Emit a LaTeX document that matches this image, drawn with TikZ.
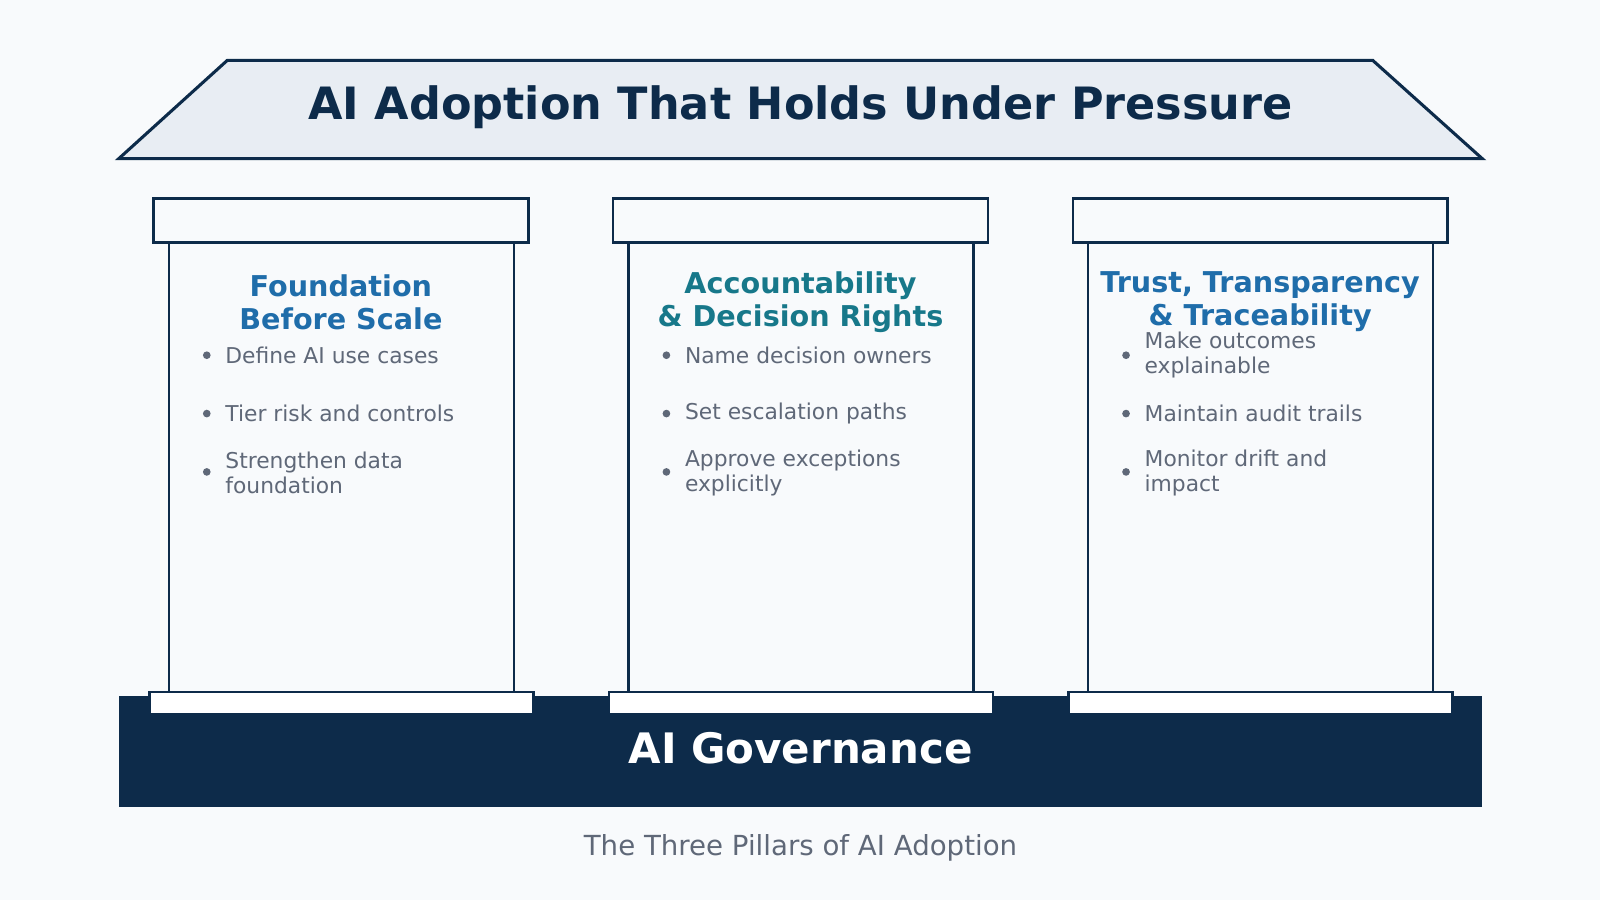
\documentclass[tikz,border=0pt]{standalone}
\usepackage{fontspec}
\setmainfont{DejaVu Sans}
\definecolor{navy}{HTML}{0D2B4A}
\definecolor{roofbg}{HTML}{E8EDF3}
\definecolor{pagebg}{HTML}{F8FAFC}
\definecolor{headblue}{HTML}{1F6DAA}
\definecolor{headteal}{HTML}{17788A}
\definecolor{txtgray}{HTML}{5F6878}
\tikzset{
  part/.style={draw=navy, line width=2.5pt, fill=pagebg},
  head/.style={font=\fontsize{28}{32}\selectfont\bfseries, align=center, inner sep=0pt},
  item/.style={font=\fontsize{21.3}{24}\selectfont, text=txtgray, align=left, anchor=west, inner sep=0pt},
  dot/.style={circle, fill=txtgray, inner sep=0pt, minimum size=7.5pt}
}
\begin{document}
\begin{tikzpicture}[x=1pt,y=1pt,yscale=-1]
\fill[pagebg] (0,0) rectangle (1563,879);
\useasboundingbox (0,0) rectangle (1563,879);

%Roof
\draw[navy, line width=3pt, fill=roofbg] (222,59) -- (1341,59) -- (1448,155) -- (116,155) -- cycle;
\node[font=\fontsize{43.5}{48}\selectfont\bfseries, text=navy] (title) at (782,105) {AI Adoption That Holds Under Pressure};

%Foundation
\fill[navy] (116,680) rectangle (1448,788);
\node[font=\fontsize{41}{46}\selectfont\bfseries, text=white] (gov) at (782,731) {AI Governance};

%Pillars
\foreach \i/\dx in {1/0, 2/449, 3/898}{
  \draw[part] (165+\dx,237) rectangle (502+\dx,676);
  \draw[part] (150+\dx,194) rectangle (516+\dx,237);
  \draw[part, fill=white] (146+\dx,676) rectangle (521+\dx,698);
}

%Pillar 1
\node[head, text=headblue] (h1) at (333,295) {Foundation\\Before Scale};
\node[dot] (d11) at (202,347) {}; \node[item] (t11) at (220,347) {Define AI use cases};
\node[dot] (d12) at (202,404) {}; \node[item] (t12) at (220,404) {Tier risk and controls};
\node[dot] (d13) at (202,461) {}; \node[item] (t13) at (220,462) {Strengthen data\\foundation};

%Pillar 2
\node[head, text=headteal] (h2) at (782,295) {Accountability\\\& Decision Rights};
\node[dot] (d21) at (651,347) {}; \node[item] (t21) at (669,347) {Name decision owners};
\node[dot] (d22) at (651,404) {}; \node[item] (t22) at (669,404) {Set escalation paths};
\node[dot] (d23) at (651,461) {}; \node[item] (t23) at (669,462) {Approve exceptions\\explicitly};

%Pillar 3
\node[head, text=headblue] (h3) at (1231,295) {Trust, Transparency\\\& Traceability};
\node[dot] (d31) at (1100,347) {}; \node[item] (t31) at (1118,347) {Make outcomes\\explainable};
\node[dot] (d32) at (1100,404) {}; \node[item] (t32) at (1118,404) {Maintain audit trails};
\node[dot] (d33) at (1100,461) {}; \node[item] (t33) at (1118,462) {Monitor drift and\\impact};

%Caption
\node[font=\fontsize{27}{30}\selectfont, text=txtgray] (cap) at (782,828) {The Three Pillars of AI Adoption};
\end{tikzpicture}
\end{document}
